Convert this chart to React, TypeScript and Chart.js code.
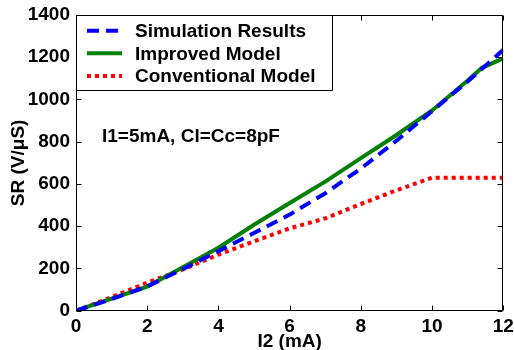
import React, { useEffect, useRef } from "react";
import { Chart, registerables } from "chart.js";

Chart.register(...registerables);

// ---- data ----
const i2Values = [0, 1, 2, 3, 4, 5, 6, 7, 8, 9, 10, 11, 12];
const simulationSR = [0, 55, 115, 197, 282, 368, 455, 556, 673, 805, 945, 1085, 1235];
const improvedI2 = [0, 1, 2, 3, 4, 5, 6, 7, 8, 9, 10, 11, 11.4, 12];
const improvedSR = [0, 57, 114, 206, 298, 407, 510, 611, 722, 832, 948, 1090, 1150, 1195];
const conventionalSR = [0, 64, 133, 195, 266, 328, 390, 437, 505, 570, 630, 630, 630];

const seriesLabels = ["Simulation Results", "Improved Model", "Conventional Model"];
const seriesColors = ["#0000ff", "#008000", "#ff0000"];
const seriesDashes = [[12, 7], [], [4, 4]];

const xTickValues = [0, 2, 4, 6, 8, 10, 12];
const yTickValues = [0, 200, 400, 600, 800, 1000, 1200, 1400];
const xAxisTitle = "I2 (mA)";
const yAxisTitle = "SR (V/μS)";
const annotationText = "I1=5mA, Cl=Cc=8pF";

const FONT = '"Liberation Sans", Arial, Helvetica, sans-serif';

export default function App() {
  const ref = useRef<HTMLCanvasElement>(null);

  useEffect(() => {
    document.body.style.margin = "0";
    const canvas = ref.current;
    if (!canvas) return;

    const overlay = {
      id: "overlay",
      afterDatasetsDraw(chart: any) {
        const { ctx, chartArea: a, scales } = chart;
        const L = Math.round(a.left) + 0.5;
        const R = Math.round(a.right) - 0.5;
        const T = Math.round(a.top) + 0.5;
        const B = Math.round(a.bottom) - 0.5;
        ctx.save();
        ctx.strokeStyle = "#000";
        ctx.lineWidth = 1;
        ctx.setLineDash([]);
        ctx.beginPath();
        ctx.rect(L, T, R - L, B - T);
        ctx.stroke();
        const tl = 5;
        ctx.beginPath();
        for (const v of xTickValues) {
          const px = Math.round(scales.x.getPixelForValue(v)) + 0.5;
          ctx.moveTo(px, B);
          ctx.lineTo(px, B - tl);
          ctx.moveTo(px, T);
          ctx.lineTo(px, T + tl);
        }
        for (const v of yTickValues) {
          const py = Math.round(scales.y.getPixelForValue(v)) + 0.5;
          ctx.moveTo(L, py);
          ctx.lineTo(L + tl, py);
          ctx.moveTo(R, py);
          ctx.lineTo(R - tl, py);
        }
        ctx.stroke();

        // legend box
        const lx0 = L, ly0 = T, lx1 = 332.5, ly1 = 90.5;
        ctx.fillStyle = "#fff";
        ctx.fillRect(lx0, ly0, lx1 - lx0, ly1 - ly0);
        ctx.beginPath();
        ctx.rect(lx0, ly0, lx1 - lx0, ly1 - ly0);
        ctx.stroke();
        const rowY = [30.7, 53.3, 76];
        ctx.font = `bold 19px ${FONT}`;
        ctx.textBaseline = "middle";
        ctx.textAlign = "left";
        seriesLabels.forEach((lab, i) => {
          ctx.strokeStyle = seriesColors[i];
          ctx.lineWidth = 4;
          ctx.lineCap = "butt";
          ctx.setLineDash(seriesDashes[i]);
          ctx.beginPath();
          ctx.moveTo(87, rowY[i]);
          ctx.lineTo(122, rowY[i]);
          ctx.stroke();
          ctx.setLineDash([]);
          ctx.fillStyle = "#000";
          ctx.fillText(lab, 135, rowY[i] + 1);
        });

        // annotation
        ctx.fillStyle = "#000";
        ctx.fillText(annotationText, 102, 137);
        ctx.restore();
      },
    };

    const tickFont = { family: FONT, size: 19, weight: "bold", lineHeight: 1 };

    const chart = new Chart(canvas, {
      type: "line",
      data: {
        datasets: [
          {
            label: seriesLabels[0],
            data: i2Values.map((x, i) => ({ x, y: simulationSR[i] })),
            borderColor: seriesColors[0],
            borderDash: seriesDashes[0],
            borderWidth: 4,
            pointRadius: 0,
            tension: 0,
            fill: false,
          },
          {
            label: seriesLabels[1],
            data: improvedI2.map((x, i) => ({ x, y: improvedSR[i] })),
            borderColor: seriesColors[1],
            borderDash: seriesDashes[1],
            borderWidth: 4,
            pointRadius: 0,
            tension: 0,
            fill: false,
          },
          {
            label: seriesLabels[2],
            data: i2Values.map((x, i) => ({ x, y: conventionalSR[i] })),
            borderColor: seriesColors[2],
            borderDash: seriesDashes[2],
            borderWidth: 4,
            pointRadius: 0,
            tension: 0,
            fill: false,
          },
        ],
      },
      options: {
        responsive: false,
        animation: false,
        devicePixelRatio: 1,
        layout: { padding: { top: 15, right: 10.7, left: 0, bottom: 0 } },
        plugins: { legend: { display: false }, tooltip: { enabled: false } },
        scales: {
          x: {
            type: "linear",
            min: 0,
            max: 12,
            afterBuildTicks: (s: any) => {
              s.ticks = xTickValues.map((v) => ({ value: v }));
            },
            afterFit: (s: any) => {
              s.height = 39.3;
              s.paddingLeft = 0;
              s.paddingRight = 0;
            },
            grid: { display: false, drawTicks: false },
            border: { display: false },
            ticks: {
              color: "#000",
              padding: 7,
              maxRotation: 0,
              callback: (v: any) => String(v),
              font: tickFont,
            },
            title: {
              display: true,
              text: xAxisTitle,
              color: "#000",
              padding: { top: 0, bottom: -1 },
              font: tickFont,
            },
          },
          y: {
            type: "linear",
            min: 0,
            max: 1400,
            afterBuildTicks: (s: any) => {
              s.ticks = yTickValues.map((v) => ({ value: v }));
            },
            afterFit: (s: any) => {
              s.width = 76;
              s.paddingTop = 0;
              s.paddingBottom = 0;
            },
            grid: { display: false, drawTicks: false },
            border: { display: false },
            ticks: {
              color: "#000",
              padding: 6,
              callback: (v: any) => String(v),
              font: tickFont,
            },
            title: {
              display: true,
              text: yAxisTitle,
              color: "#000",
              padding: { top: 9, bottom: 0 },
              font: tickFont,
            },
          },
        },
      },
      plugins: [overlay],
    } as any);

    return () => chart.destroy();
  }, []);

  return (
    <div style={{ position: "absolute", left: 0, top: 0, width: 514, height: 350 }}>
      <canvas ref={ref} width={514} height={350} />
    </div>
  );
}
